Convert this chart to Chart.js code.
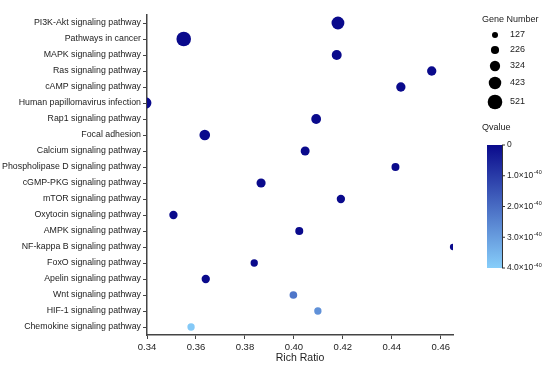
<!DOCTYPE html>
<html>
<head>
<meta charset="utf-8">
<script src="https://cdn.jsdelivr.net/npm/chart.js@4"></script>
<style>
  html, body { margin: 0; padding: 0; background: #fff; }
  #wrap { width: 550px; height: 366px; position: relative; }
</style>
</head>
<body>
<div id="wrap"><canvas id="myChart"></canvas></div>
<script>
var pathways = [
  "PI3K-Akt signaling pathway", "Pathways in cancer", "MAPK signaling pathway",
  "Ras signaling pathway", "cAMP signaling pathway", "Human papillomavirus infection",
  "Rap1 signaling pathway", "Focal adhesion", "Calcium signaling pathway",
  "Phospholipase D signaling pathway", "cGMP-PKG signaling pathway", "mTOR signaling pathway",
  "Oxytocin signaling pathway", "AMPK signaling pathway", "NF-kappa B signaling pathway",
  "FoxO signaling pathway", "Apelin signaling pathway", "Wnt signaling pathway",
  "HIF-1 signaling pathway", "Chemokine signaling pathway"
];
var richRatio = [0.418, 0.355, 0.4175, 0.4563, 0.4437, 0.3395, 0.4091, 0.3636, 0.4046, 0.4415,
                 0.3866, 0.4192, 0.3508, 0.4022, 0.4650, 0.3838, 0.3640, 0.3998, 0.4098, 0.3580];
var geneNumber = [440, 521, 309, 279, 279, 369, 300, 339, 263, 218,
                  270, 233, 233, 218, 140, 188, 233, 203, 188, 188];
var qvalue = [0, 0, 0, 0, 0, 0, 0, 0, 0, 0,
              0, 0, 0, 0, 0, 0, 0, 2.2e-40, 2.75e-40, 3.9e-40];
var xTicks = [0.34, 0.36, 0.38, 0.40, 0.42, 0.44, 0.46];
var sizeLegend = [127, 226, 324, 423, 521];
var qTicks = [0, 1.0e-40, 2.0e-40, 3.0e-40, 4.0e-40];

var qMax = 4e-40;
var darkC = [10, 10, 140], lightC = [135, 206, 250];
function qColor(q) {
  var t = Math.max(0, Math.min(1, q / qMax));
  var c = darkC.map(function (d, i) { return Math.round(d + (lightC[i] - d) * t); });
  return "rgb(" + c.join(",") + ")";
}
function radius(n) { return 3 + (n - 127) / 394 * 4.3; }

var points = pathways.map(function (p, i) {
  return { x: richRatio[i], y: p, r: radius(geneNumber[i]) };
});

var FONT = "'Liberation Sans', Arial, sans-serif";

var legendPlugin = {
  id: "sideLegend",
  afterDraw: function (chart) {
    var ctx = chart.ctx;
    ctx.save();
    ctx.fillStyle = "#222";
    ctx.font = "9px " + FONT;
    ctx.textBaseline = "middle";
    ctx.textAlign = "left";
    ctx.fillText("Gene Number", 482, 20);
    var ys = [35, 50, 66, 83, 102];
    sizeLegend.forEach(function (n, i) {
      ctx.beginPath();
      ctx.fillStyle = "#000";
      ctx.arc(495, ys[i], radius(n), 0, Math.PI * 2);
      ctx.fill();
      ctx.fillStyle = "#222";
      ctx.fillText(String(n), 510, ys[i]);
    });
    ctx.fillText("Qvalue", 482, 128);
    var top = 145, bot = 268, left = 487, w = 15;
    var g = ctx.createLinearGradient(0, top, 0, bot);
    g.addColorStop(0, qColor(0));
    g.addColorStop(1, qColor(qMax));
    ctx.fillStyle = g;
    ctx.fillRect(left, top, w, bot - top);
    ctx.strokeStyle = "#333";
    ctx.lineWidth = 1;
    ctx.beginPath();
    ctx.moveTo(left + w + 0.5, top);
    ctx.lineTo(left + w + 0.5, bot);
    ctx.stroke();
    qTicks.forEach(function (q) {
      var y = top + (bot - top) * q / qMax;
      ctx.beginPath();
      ctx.moveTo(left + w, y);
      ctx.lineTo(left + w + 3, y);
      ctx.stroke();
      ctx.fillStyle = "#222";
      ctx.font = "8.5px " + FONT;
      if (q === 0) {
        ctx.fillText("0", left + w + 5, y);
      } else {
        var base = (q / 1e-40).toFixed(1) + "\u00d710";
        ctx.fillText(base, left + w + 5, y);
        var bw = ctx.measureText(base).width;
        ctx.font = "5.5px " + FONT;
        ctx.fillText("-40", left + w + 5 + bw + 0.5, y - 3);
      }
    });
    ctx.restore();
  }
};

new Chart("myChart", {
  type: "bubble",
  data: {
    datasets: [{
      data: points,
      backgroundColor: qvalue.map(qColor),
      borderWidth: 0,
      hoverBorderWidth: 0
    }]
  },
  options: {
    responsive: true,
    maintainAspectRatio: false,
    animation: false,
    layout: { padding: { top: 15, right: 97, left: 0, bottom: 0 } },
    plugins: { legend: { display: false }, tooltip: { enabled: false } },
    scales: {
      x: {
        type: "linear",
        min: 0.34,
        max: 0.465,
        afterBuildTicks: function (scale) {
          scale.ticks = xTicks.map(function (v) { return { value: v }; });
        },
        afterFit: function (scale) { scale.height = 31; },
        grid: { drawOnChartArea: false, drawTicks: true, tickLength: 4, color: "#444", lineWidth: 1 },
        border: { display: true, color: "#444", width: 1.5 },
        ticks: {
          color: "#222",
          font: { family: FONT, size: 9.5 },
          padding: 3,
          callback: function (v) { return Number(v).toFixed(2); }
        },
        title: {
          display: true,
          text: "Rich Ratio",
          color: "#222",
          font: { family: FONT, size: 10.5 },
          padding: { top: 0, bottom: 2 }
        }
      },
      y: {
        type: "category",
        labels: pathways,
        offset: true,
        afterFit: function (scale) { scale.width = 147; },
        grid: { drawOnChartArea: false, drawTicks: true, tickLength: 4, color: "#444", lineWidth: 1, offset: false },
        border: { display: true, color: "#444", width: 1.5 },
        ticks: {
          color: "#222",
          font: { family: FONT, size: 8.8 },
          padding: 2,
          autoSkip: false
        }
      }
    }
  },
  plugins: [legendPlugin]
});
</script>
</body>
</html>
